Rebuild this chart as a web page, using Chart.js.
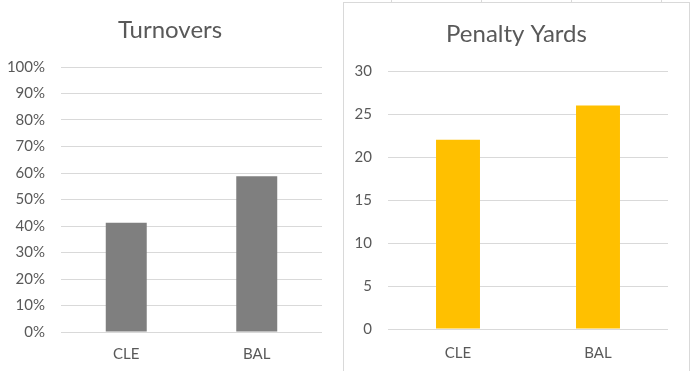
<!DOCTYPE html>
<html><head><meta charset="utf-8">
<script src="https://cdn.jsdelivr.net/npm/chart.js@4"></script>
<style>
html,body{margin:0;padding:0;background:#fff;width:690px;height:371px;overflow:hidden;}
body{position:relative;}
#c1{position:absolute;left:0;top:0;}
#box{position:absolute;left:343px;top:2px;width:345px;height:380px;border:1px solid #d9d9d9;border-bottom:none;}
#c2{position:absolute;left:0;top:0;}
.cell{position:absolute;top:0;width:1px;height:2px;background:#d9d9d9;}
</style></head>
<body>
<canvas id="c1" width="340" height="371"></canvas>
<div class="cell" style="left:391px"></div>
<div class="cell" style="left:481px"></div>
<div class="cell" style="left:571px"></div>
<div class="cell" style="left:661px"></div>
<div id="box"><canvas id="c2" width="345" height="368"></canvas></div>
<script>
const categories = ['CLE', 'BAL'];
const turnoverTitle = 'Turnovers';
const turnoverValues = [41.2, 58.8];      // percent
const penaltyTitle = 'Penalty Yards';
const penaltyValues = [22, 26];

const textColor = '#595959';
const gridColor = '#d9d9d9';
const fontFamily = 'Lato, "Open Sans", sans-serif';

// center the title across the whole canvas (Excel style)
const fullWidthTitle = {
  id: 'fullWidthTitle',
  afterLayout(chart) {
    const t = chart.titleBlock;
    if (t) { t.left = 0; t.right = chart.width; t.width = chart.width; }
  }
};

function makeChart(id, cfg) {
  return new Chart(document.getElementById(id), {
    type: 'bar',
    plugins: [fullWidthTitle],
    data: {
      labels: categories,
      datasets: [{
        data: cfg.values,
        backgroundColor: cfg.color,
        borderWidth: 0,
        barPercentage: 0.314,
        categoryPercentage: 1
      }]
    },
    options: {
      responsive: false,
      animation: false,
      devicePixelRatio: 1,
      layout: { padding: { left: 0, right: cfg.padR, top: 0, bottom: 0 } },
      plugins: {
        legend: { display: false },
        tooltip: { enabled: false },
        title: {
          display: true,
          text: cfg.title,
          color: textColor,
          font: { family: fontFamily, size: 24, weight: 'normal', lineHeight: 1.2 },
          padding: { top: cfg.titleTop, bottom: cfg.titleBottom }
        }
      },
      scales: {
        x: {
          grid: { display: false },
          border: { display: false },
          ticks: { color: textColor, font: { family: fontFamily, size: 15 }, padding: cfg.xPad },
          afterFit: s => { s.height = cfg.xHeight; }
        },
        y: {
          min: 0, max: cfg.max,
          grid: { color: gridColor, lineWidth: 1, drawTicks: false },
          border: { display: false },
          ticks: {
            stepSize: cfg.step,
            color: textColor,
            font: { family: fontFamily, size: 15 },
            padding: 16,
            callback: cfg.fmt
          },
          afterFit: s => { s.width = cfg.yWidth; }
        }
      }
    }
  });
}

makeChart('c1', {
  values: turnoverValues, color: '#7f7f7f', title: turnoverTitle,
  padR: 18, yWidth: 61, xHeight: 39, xPad: 5,
  titleTop: 15.6, titleBottom: 22.6,
  max: 100, step: 10, fmt: v => v + '%'
});

makeChart('c2', {
  values: penaltyValues, color: '#ffc000', title: penaltyTitle,
  padR: 21, yWidth: 44, xHeight: 42, xPad: 7,
  titleTop: 17.3, titleBottom: 21.9,
  max: 30, step: 5, fmt: v => v
});
</script>
</body></html>
